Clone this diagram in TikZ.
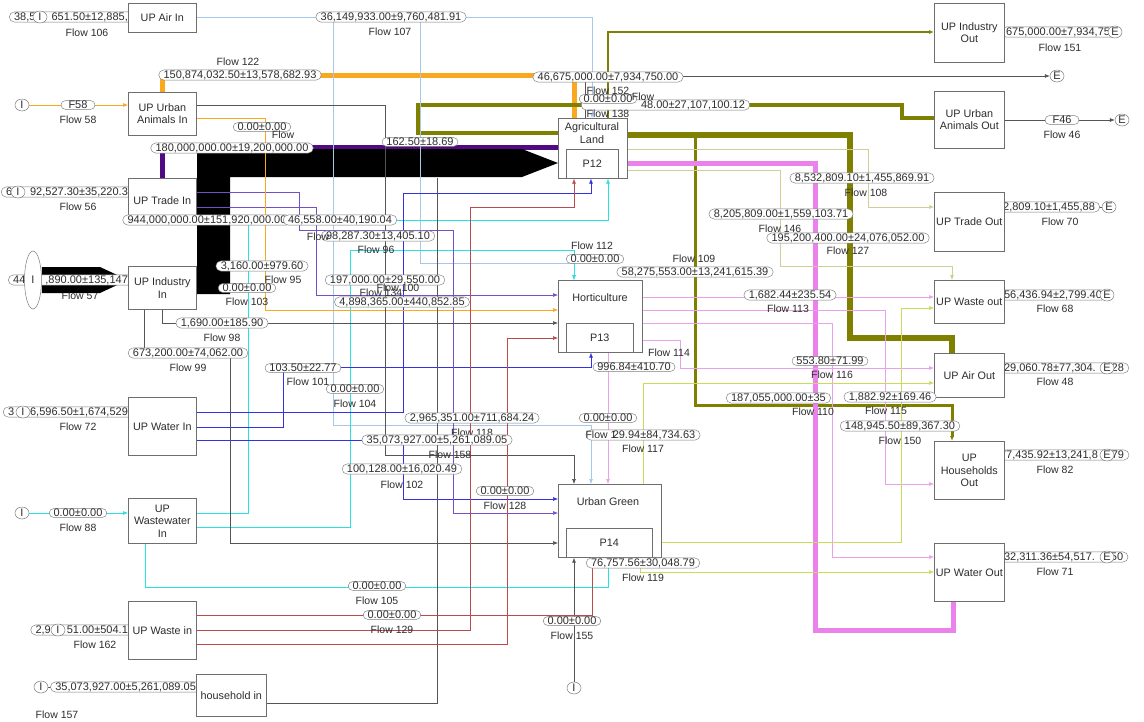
\documentclass[tikz,border=0pt]{standalone}
\usepackage{fontspec}
\setmainfont{Liberation Sans}
\usetikzlibrary{shapes.misc,shapes.geometric,arrows.meta,calc}
\pgfdeclarelayer{bgl}\pgfdeclarelayer{thk}\pgfdeclarelayer{thn}\pgfdeclarelayer{lbl}\pgfdeclarelayer{top}
\pgfsetlayers{bgl,thk,thn,lbl,main,top}
\definecolor{bxg}{RGB}{110,110,110}
\definecolor{vg}{RGB}{125,125,125}
\definecolor{txt}{RGB}{45,45,45}
\definecolor{cor}{RGB}{250,168,30}
\definecolor{cpu}{RGB}{80,10,130}
\definecolor{colv}{RGB}{128,128,0}
\definecolor{cpk}{RGB}{235,130,235}
\definecolor{cair}{RGB}{165,200,235}
\definecolor{ccy}{RGB}{40,225,225}
\definecolor{cbl}{RGB}{50,50,225}
\definecolor{cpt}{RGB}{115,80,200}
\definecolor{cgr}{RGB}{85,85,85}
\definecolor{crd}{RGB}{185,75,75}
\definecolor{cyg}{RGB}{200,220,90}
\definecolor{cbg}{RGB}{210,205,150}
\definecolor{cpkt}{RGB}{235,160,235}
\newcommand\valfont{\fontsize{11}{12}\selectfont}
\newcommand\flfont{\fontsize{10.5}{12}\selectfont}
\newcommand\bxfont{\fontsize{10.8}{12.5}\selectfont}
\begin{document}
\begin{tikzpicture}[x=1pt,y=-1pt,
  box/.style={draw=bxg, fill=white, line width=0.7pt, anchor=north west, inner sep=1pt, align=center, font=\bxfont, text=txt},
  btxt/.style={font=\bxfont, text=txt, align=center, inner sep=0pt},
  val/.style={rounded rectangle, draw=vg, fill=white, line width=0.45pt, inner xsep=2pt, inner ysep=0.5pt, font=\valfont, text=txt},
  flw/.style={font=\flfont, text=txt, inner sep=0pt},
  io/.style={ellipse, draw=vg, fill=white, line width=0.5pt, minimum width=14pt, minimum height=12pt, inner sep=0pt, font=\valfont, text=txt},
  ln/.style={line width=0.6pt},
  arr/.style={-{Latex[length=5pt,width=4pt]}}]
\begin{pgfonlayer}{bgl}
\fill[white] (0,0) rectangle (1144,721);
\node[flw] at (80,296) {Flow 57};
\end{pgfonlayer}
\useasboundingbox (0,0) rectangle (1144,721);
% ---------- boxes ----------
\node[box, minimum width=68pt, minimum height=29pt] (uair) at (128,3) {UP Air In};
\node[box, minimum width=68pt, minimum height=43pt] (uani) at (128,92) {UP Urban\\Animals In};
\node[box, minimum width=68pt, minimum height=44pt] (utr) at (128,178) {UP Trade In};
\node[box, minimum width=68pt, minimum height=43pt] (uind) at (128,266) {UP Industry\\In};
\node[box, minimum width=68pt, minimum height=58pt] (uwat) at (128,397) {UP Water In};
\node[box, minimum width=68pt, minimum height=45pt] (uww) at (128,498) {UP\\Wastewater\\In};
\node[box, minimum width=68pt, minimum height=58pt] (uwst) at (128,601) {UP Waste in};
\node[box, minimum width=70pt, minimum height=42pt] (hh) at (196,674) {household in};
\node[box, minimum width=69pt, minimum height=60pt] (ag) at (558,118) {};
\node[box, minimum width=52pt, minimum height=29pt] (p12) at (566,149) {P12};
\node[btxt] (agt) at (592,133) {Agricultural\\Land};
\node[box, minimum width=84pt, minimum height=72pt] (ho) at (558,280) {};
\node[box, minimum width=67pt, minimum height=29pt] (p13) at (566,323) {P13};
\node[btxt] (hot) at (600,298) {Horticulture};
\node[box, minimum width=103pt, minimum height=73pt] (ug) at (558,484) {};
\node[box, minimum width=86pt, minimum height=29pt] (p14) at (566,528) {P14};
\node[btxt] (ugt) at (608,502) {Urban Green};
\node[box, minimum width=70pt, minimum height=59pt] (oind) at (934,3) {UP Industry\\Out};
\node[box, minimum width=70pt, minimum height=57pt] (oani) at (934,91) {UP Urban\\Animals Out};
\node[box, minimum width=70pt, minimum height=59pt] (otr) at (934,192) {UP Trade Out};
\node[box, minimum width=70pt, minimum height=43pt] (owst) at (934,280) {UP Waste out};
\node[box, minimum width=70pt, minimum height=44pt] (oair) at (934,353) {UP Air Out};
\node[box, minimum width=70pt, minimum height=58pt] (ohh) at (934,441) {UP\\Households\\Out};
\node[box, minimum width=70pt, minimum height=58pt] (owat) at (934,543) {UP Water Out};
% ---------- I / E ----------
\node[io] (i106) at (40,17) {I};
\node[io] (i58) at (22,105) {I};
\node[io] (i56) at (18,192) {I};
\node[io, minimum width=17pt, minimum height=58pt] (i57) at (33,280) {I};
\node[io] (i72) at (23,412) {I};
\node[io] (i88) at (22,513) {I};
\node[io] (i162) at (58,630) {I};
\node[io] (i157) at (41,687) {I};
\node[io] (i155) at (574,688) {I};
\node[io] (e151) at (1115,32) {E};
\node[io] (e76) at (1057,76) {E};
\node[io] (e46) at (1122,120) {E};
\node[io] (e70) at (1109,207) {E};
\node[io] (e68) at (1107,295) {E};
\node[io] (e48) at (1107,368) {E};
\node[io] (e82) at (1107,455) {E};
\node[io] (e71) at (1107,557) {E};
\coordinate (ja2) at (333,17);
\coordinate (ja3) at (420,17);
\coordinate (jo1) at (695,135);
\coordinate (hhend) at (437,178);
% ---------- thick flows ----------
\begin{pgfonlayer}{thk}
\draw[cor, line width=5pt] (162,0 |- uani.north) -- (162,75) -- (574,75) -- (574,0 |- ag.north);
\draw[cpu, line width=5pt] (162,0 |- utr.north) -- (162,147) -- (ag.west |- 0,147);
\draw[colv, line width=4pt] (ag.west |- 0,133) -- (418,133) -- (418,105) -- (902,105) -- (902,118) -- (oani.west |- 0,118);
\draw[colv, line width=6pt] (ag.east |- 0,135) -- (850,135) -- (850,338) -- (952,338) -- (952,0 |- oair.north);
\draw[colv, line width=3pt, arr] (jo1) -- (695,405) -- (952,405) -- (952,0 |- ohh.north);
\draw[colv, line width=2.5pt, arr] (608,0 |- ag.north) -- (608,32) -- (oind.west |- 0,32);
\draw[cpk, line width=5pt] (ag.east |- 0,163) -- (815,163) -- (815,630) -- (953,630) -- (953,0 |- owat.south);
\fill[black] (197,149) -- (522,149) -- (ag.west |- 0,163) -- (522,177) -- (230,177) -- (230,294) -- (197,294) -- cycle;
\fill[black] (i57.east |- 0,267) -- (100,267) -- (uind.west |- 0,280) -- (100,293) -- (i57.east |- 0,293) -- cycle;
\end{pgfonlayer}
% ---------- thin flows ----------
\begin{pgfonlayer}{thn}
\draw[ln,cair,arr] (uair.east |- 0,17) -- (592,17) -- (592,0 |- ag.north);
\draw[ln,cair,arr] (ja2) -- (333,425) -- (591,425) -- (591,0 |- ug.north);
\draw[ln,cair,arr] (ja3) -- (420,263) -- (574,263) -- (574,0 |- ho.north);
\draw[ln,ccy,arr] (uww.east |- 0,513) -- (248,513) -- (248,220) -- (608,220) -- (608,0 |- ag.south);
\draw[ln,ccy,arr] (uww.east |- 0,527) -- (350,527) -- (350,250) -- (574,250) -- (574,0 |- ho.north);
\draw[ln,ccy,arr] (145,0 |- uww.south) -- (145,587) -- (608,587) -- (608,0 |- ug.south);
\draw[ln,ccy,arr] (i88) -- (uww.west |- i88);
\draw[ln,cbl,arr] (uwat.east |- 0,412) -- (403,412) -- (403,193) -- (591,193) -- (591,0 |- ag.south);
\draw[ln,cbl,arr] (uwat.east |- 0,427) -- (283,427) -- (283,367) -- (591,367) -- (591,0 |- ho.south);
\draw[ln,cbl,arr] (uwat.east |- 0,440) -- (403,440) -- (403,499) -- (ug.west |- 0,499);
\draw[ln,cpt,arr] (utr.east |- 0,192) -- (299,192) -- (299,230) -- (453,230) -- (453,513) -- (ug.west |- 0,513);
\draw[ln,cpt,arr] (utr.east |- 0,207) -- (316,207) -- (316,295) -- (ho.west |- 0,295);
\draw[ln,cor,arr] (uani.east |- 0,118) -- (265,118) -- (265,310) -- (ho.west |- 0,310);
\draw[ln,cor,arr] (i58) -- (uani.west |- i58);
\draw[ln,cgr,arr] (162,0 |- uind.south) -- (162,323) -- (ho.west |- 0,323);
\draw[ln,cgr,arr] (144,0 |- uind.south) -- (144,353) -- (230,353) -- (230,543) -- (ug.west |- 0,543);
\draw[ln,cgr,arr] (uani.east |- 0,105) -- (385,105) -- (385,455) -- (574,455) -- (574,0 |- ug.north);
\draw[ln,cgr] (hh.east |- 0,703) -- (437,703) -- (hhend);
\draw[ln,cgr,arr] (i155) -- (i155 |- ug.south);
\draw[ln,cgr,arr] (585,0 |- ag.north) -- (585,76) -- (e76);
\draw[ln,cgr] (i106) -- (uair.west |- i106);
\draw[ln,cgr] (i56) -- (utr.west |- i56);
\draw[ln,cgr] (i72) -- (uwat.west |- i72);
\draw[ln,cgr] (i162) -- (uwst.west |- i162);
\draw[ln,cgr] (i157) -- (hh.west |- i157);
\draw[ln,cgr] (oind.east |- e151) -- (e151);
\draw[ln,cgr,arr] (oani.east |- e46) -- (e46);
\draw[ln,cgr] (otr.east |- e70) -- (e70);
\draw[ln,cgr] (owst.east |- e68) -- (e68);
\draw[ln,cgr] (oair.east |- e48) -- (e48);
\draw[ln,cgr] (ohh.east |- e82) -- (e82);
\draw[ln,cgr] (owat.east |- e71) -- (e71);
\draw[ln,crd,arr] (uwst.east |- 0,630) -- (470,630) -- (470,207) -- (574,207) -- (574,0 |- ag.south);
\draw[ln,crd,arr] (uwst.east |- 0,644) -- (507,644) -- (507,338) -- (ho.west |- 0,338);
\draw[ln,crd,arr] (uwst.east |- 0,615) -- (592,615) -- (592,0 |- ug.south);
\draw[ln,cpkt,arr] (ho.east |- 0,297) -- (owst.west |- 0,297);
\draw[ln,cpkt,arr] (ho.east |- 0,310) -- (885,310) -- (885,484) -- (ohh.west |- 0,484);
\draw[ln,cpkt,arr] (ho.east |- 0,323) -- (832,323) -- (832,557) -- (owat.west |- 0,557);
\draw[ln,cpkt,arr] (ho.east |- 0,340) -- (680,340) -- (680,368) -- (oair.west |- 0,368);
\draw[ln,cpkt,arr] (608,0 |- ho.south) -- (608,0 |- ug.north);
\draw[ln,cyg,arr] (643,0 |- ug.north) -- (643,383) -- (oair.west |- 0,383);
\draw[ln,cyg,arr] (ug.east |- 0,542) -- (901,542) -- (901,308) -- (owst.west |- 0,308);
\draw[ln,cyg,arr] (640,0 |- ug.south) -- (640,572) -- (owat.west |- 0,572);
\draw[ln,cbg,arr] (ag.east |- 0,149) -- (868,149) -- (868,207) -- (otr.west |- 0,207);
\draw[ln,cbg,arr] (ag.east |- 0,170) -- (780,170) -- (780,266) -- (952,266) -- (952,0 |- owst.north);
\end{pgfonlayer}
% ---------- labels under boxes ----------
\begin{pgfonlayer}{lbl}
\node[val, anchor=east] at (133,17) {38,5\hspace{16pt}651.50±12,885,};
\node[val, anchor=east] at (133,192) {6\hspace{18pt}92,527.30±35,220.3};
\node[val, anchor=east] at (133,280) {44\hspace{20pt},890.00±135,147};
\node[val, anchor=east] at (133,412) {3\hspace{16pt}6,596.50±1,674,529};
\node[val, anchor=east] at (133,630) {2,9\hspace{16pt}51.00±504.1};
\node[val, anchor=east] at (201,687) {35,073,927.00±5,261,089.05};
\node[val, anchor=west] at (1001,32) {675,000.00±7,934,750\hspace{14pt}};
\node[val, anchor=west] at (992,207) {82,809.10±1,455,88\hspace{14pt}};
\node[val, anchor=west] at (999,295) {56,436.94±2,799.40\hspace{16pt}};
\node[val, anchor=west] at (999,368) {29,060.78±77,304.\hspace{16pt}28};
\node[val, anchor=west] at (995,455) {77,435.92±13,241,8\hspace{14pt}79};
\node[val, anchor=west] at (999,557) {32,311.36±54,517.\hspace{16pt}50};
\end{pgfonlayer}
% ---------- labels on top ----------
\begin{pgfonlayer}{top}
\node[flw] at (87,33) {Flow 106};
\node[val, minimum width=38pt] at (78,105) {F58};
\node[flw] at (78,120) {Flow 58};
\node[flw] at (78,207) {Flow 56};
\node[flw] at (78,427) {Flow 72};
\node[val] at (78,513) {0.00±0.00};
\node[flw] at (78,528) {Flow 88};
\node[flw] at (95,645) {Flow 162};
\node[flw] at (57,715) {Flow 157};
\node[flw] at (1060,48) {Flow 151};
\node[val, minimum width=38pt] at (1062,120) {F46};
\node[flw] at (1062,135) {Flow 46};
\node[flw] at (1060,222) {Flow 70};
\node[flw] at (1055,309) {Flow 68};
\node[flw] at (1055,382) {Flow 48};
\node[flw] at (1055,470) {Flow 82};
\node[flw] at (1055,572) {Flow 71};
\node[flw] at (238,62) {Flow 122};
\node[val] at (240,75) {150,874,032.50±13,578,682.93};
\node[val] at (391,17) {36,149,933.00±9,760,481.91};
\node[flw] at (390,32) {Flow 107};
\node[val, anchor=east] at (750,105) {\hspace{55pt}48.00±27,107,100.12};
\node[val] at (608,77) {46,675,000.00±7,934,750.00};
\node[flw] at (608,91) {Flow 152};
\node[val] at (608,99) {0.00±0.00};
\node[flw] at (643,97) {Flow};
\node[flw] at (608,114) {Flow 138};
\node[val] at (262,127) {0.00±0.00};
\node[flw] at (283,135) {Flow};
\node[val] at (232,148) {180,000,000.00±19,200,000.00};
\node[val] at (420,142) {162.50±18.69};
\node[val] at (207,220) {944,000,000.00±151,920,000.00};
\node[val] at (340,220) {46,558.00±40,190.04};
\node[val] at (378,236) {98,287.30±13,405.10};
\node[flw] at (318,237) {Flow};
\node[flw] at (376,250) {Flow 96};
\node[val] at (262,266) {3,160.00±979.60};
\node[flw] at (283,280) {Flow 95};
\node[val] at (247,288) {0.00±0.00};
\node[flw] at (247,302) {Flow 103};
\node[val] at (385,280) {197,000.00±29,550.00};
\node[flw] at (398,288) {Flow 100};
\node[flw] at (381,293) {Flow 134};
\node[val] at (402,302) {4,898,365.00±440,852.85};
\node[val] at (222,323) {1,690.00±185.90};
\node[flw] at (222,338) {Flow 98};
\node[val] at (188,353) {673,200.00±74,062.00};
\node[flw] at (188,368) {Flow 99};
\node[val] at (303,368) {103.50±22.77};
\node[flw] at (308,382) {Flow 101};
\node[val] at (355,389) {0.00±0.00};
\node[flw] at (355,404) {Flow 104};
\node[val] at (472,418) {2,965,351.00±711,684.24};
\node[flw] at (472,433) {Flow 118};
\node[val] at (437,440) {35,073,927.00±5,261,089.05};
\node[flw] at (450,455) {Flow 158};
\node[val] at (402,469) {100,128.00±16,020.49};
\node[flw] at (402,485) {Flow 102};
\node[val] at (505,491) {0.00±0.00};
\node[flw] at (505,506) {Flow 128};
\node[val] at (377,586) {0.00±0.00};
\node[flw] at (377,601) {Flow 105};
\node[val] at (392,615) {0.00±0.00};
\node[flw] at (392,630) {Flow 129};
\node[val] at (572,621) {0.00±0.00};
\node[flw] at (572,636) {Flow 155};
\node[val] at (643,563) {76,757.56±30,048.79};
\node[flw] at (643,578) {Flow 119};
\node[flw] at (592,246) {Flow 112};
\node[val] at (595,259) {0.00±0.00};
\node[flw] at (694,259) {Flow 109};
\node[val] at (695,272) {58,275,553.00±13,241,615.39};
\node[val] at (790,295) {1,682.44±235.54};
\node[flw] at (788,309) {Flow 113};
\node[flw] at (669,353) {Flow 114};
\node[val] at (634,367) {996.84±410.70};
\node[val] at (830,361) {553.80±71.99};
\node[flw] at (832,375) {Flow 116};
\node[val, anchor=west] at (726,398) {187,055,000.00±35\hspace{24pt}};
\node[val] at (890,397) {1,882.92±169.46};
\node[flw] at (813,412) {Flow 110};
\node[flw] at (886,411) {Flow 115};
\node[val] at (900,426) {148,945.50±89,367.30};
\node[flw] at (900,441) {Flow 150};
\node[val] at (608,418) {0.00±0.00};
\node[val] at (643,435) {\hspace{22pt}29.94±84,734.63};
\node[flw] at (601,435) {Flow 1};
\node[flw] at (643,449) {Flow 117};
\node[val] at (862,178) {8,532,809.10±1,455,869.91};
\node[flw] at (866,193) {Flow 108};
\node[val] at (781,214) {8,205,809.00±1,559,103.71};
\node[flw] at (780,229) {Flow 146};
\node[val] at (848,238) {195,200,400.00±24,076,052.00};
\node[flw] at (848,251) {Flow 127};
\end{pgfonlayer}
\end{tikzpicture}
\end{document}
